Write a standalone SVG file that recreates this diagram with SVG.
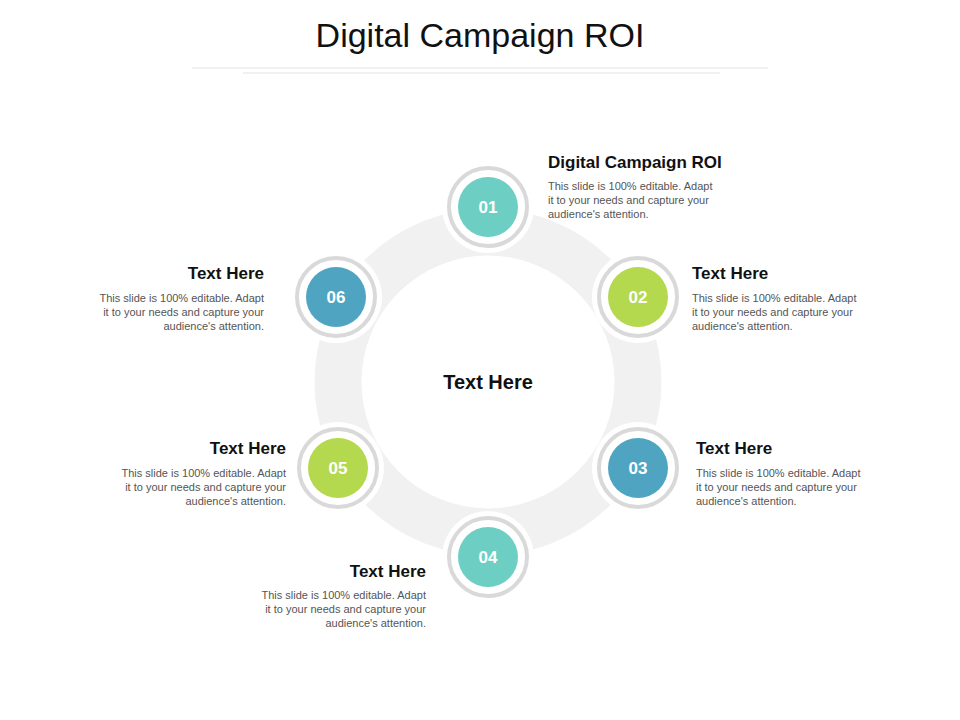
<svg xmlns="http://www.w3.org/2000/svg" width="960" height="720" viewBox="0 0 960 720">
<style>
.t{font-family:"Liberation Sans",Arial,sans-serif;fill:#111}
.h{font-size:17px;font-weight:bold}
.b{font-size:11px;fill:#555}
.n{font-family:"Liberation Sans",Arial,sans-serif;font-size:17px;font-weight:bold;fill:#fff;text-anchor:middle}
.ring{fill:#fff;stroke:#d9d9d9;stroke-width:4}
.halo{fill:#fff}
</style>
<rect width="960" height="720" fill="#fff"/>
<text x="480" y="47" class="t" font-size="34" text-anchor="middle">Digital Campaign ROI</text>
<line x1="192" y1="68" x2="768" y2="68" stroke="#e3e3e3"/>
<line x1="243" y1="73" x2="720" y2="73" stroke="#e3e3e3"/>
<g id="connectors">
<circle cx="488" cy="382" r="150" fill="none" stroke="#f1f1f1" stroke-width="47"/>
</g>
<g id="center"><text x="488" y="389" class="t" font-size="20" font-weight="bold" text-anchor="middle">Text Here</text></g>
<g id="n1"><circle cx="488" cy="207" r="46" class="halo"/><circle cx="488" cy="207" r="39" class="ring"/><circle cx="488" cy="207" r="30" fill="#6dcfc3"/><text x="488" y="213" class="n">01</text>
<text x="548" y="168" class="t h">Digital Campaign ROI</text>
<text class="t b"><tspan x="548" y="190">This slide is 100% editable. Adapt</tspan><tspan x="548" y="204">it to your needs and capture your</tspan><tspan x="548" y="218">audience's attention.</tspan></text></g>
<g id="n2"><circle cx="638" cy="297" r="46" class="halo"/><circle cx="638" cy="297" r="39" class="ring"/><circle cx="638" cy="297" r="30" fill="#b4d84e"/><text x="638" y="303" class="n">02</text>
<text x="692" y="279" class="t h">Text Here</text>
<text class="t b"><tspan x="692" y="302">This slide is 100% editable. Adapt</tspan><tspan x="692" y="316">it to your needs and capture your</tspan><tspan x="692" y="330">audience's attention.</tspan></text></g>
<g id="n3"><circle cx="638" cy="468" r="46" class="halo"/><circle cx="638" cy="468" r="39" class="ring"/><circle cx="638" cy="468" r="30" fill="#4fa5c1"/><text x="638" y="474" class="n">03</text>
<text x="696" y="454" class="t h">Text Here</text>
<text class="t b"><tspan x="696" y="477">This slide is 100% editable. Adapt</tspan><tspan x="696" y="491">it to your needs and capture your</tspan><tspan x="696" y="505">audience's attention.</tspan></text></g>
<g id="n4"><circle cx="488" cy="557" r="46" class="halo"/><circle cx="488" cy="557" r="39" class="ring"/><circle cx="488" cy="557" r="30" fill="#6dcfc3"/><text x="488" y="563" class="n">04</text>
<text x="426" y="577" class="t h" text-anchor="end">Text Here</text>
<text class="t b" text-anchor="end"><tspan x="426" y="599">This slide is 100% editable. Adapt</tspan><tspan x="426" y="613">it to your needs and capture your</tspan><tspan x="426" y="627">audience's attention.</tspan></text></g>
<g id="n5"><circle cx="338" cy="468" r="46" class="halo"/><circle cx="338" cy="468" r="39" class="ring"/><circle cx="338" cy="468" r="30" fill="#b4d84e"/><text x="338" y="474" class="n">05</text>
<text x="286" y="454" class="t h" text-anchor="end">Text Here</text>
<text class="t b" text-anchor="end"><tspan x="286" y="477">This slide is 100% editable. Adapt</tspan><tspan x="286" y="491">it to your needs and capture your</tspan><tspan x="286" y="505">audience's attention.</tspan></text></g>
<g id="n6"><circle cx="336" cy="297" r="46" class="halo"/><circle cx="336" cy="297" r="39" class="ring"/><circle cx="336" cy="297" r="30" fill="#4fa5c1"/><text x="336" y="303" class="n">06</text>
<text x="264" y="279" class="t h" text-anchor="end">Text Here</text>
<text class="t b" text-anchor="end"><tspan x="264" y="302">This slide is 100% editable. Adapt</tspan><tspan x="264" y="316">it to your needs and capture your</tspan><tspan x="264" y="330">audience's attention.</tspan></text></g>
</svg>
